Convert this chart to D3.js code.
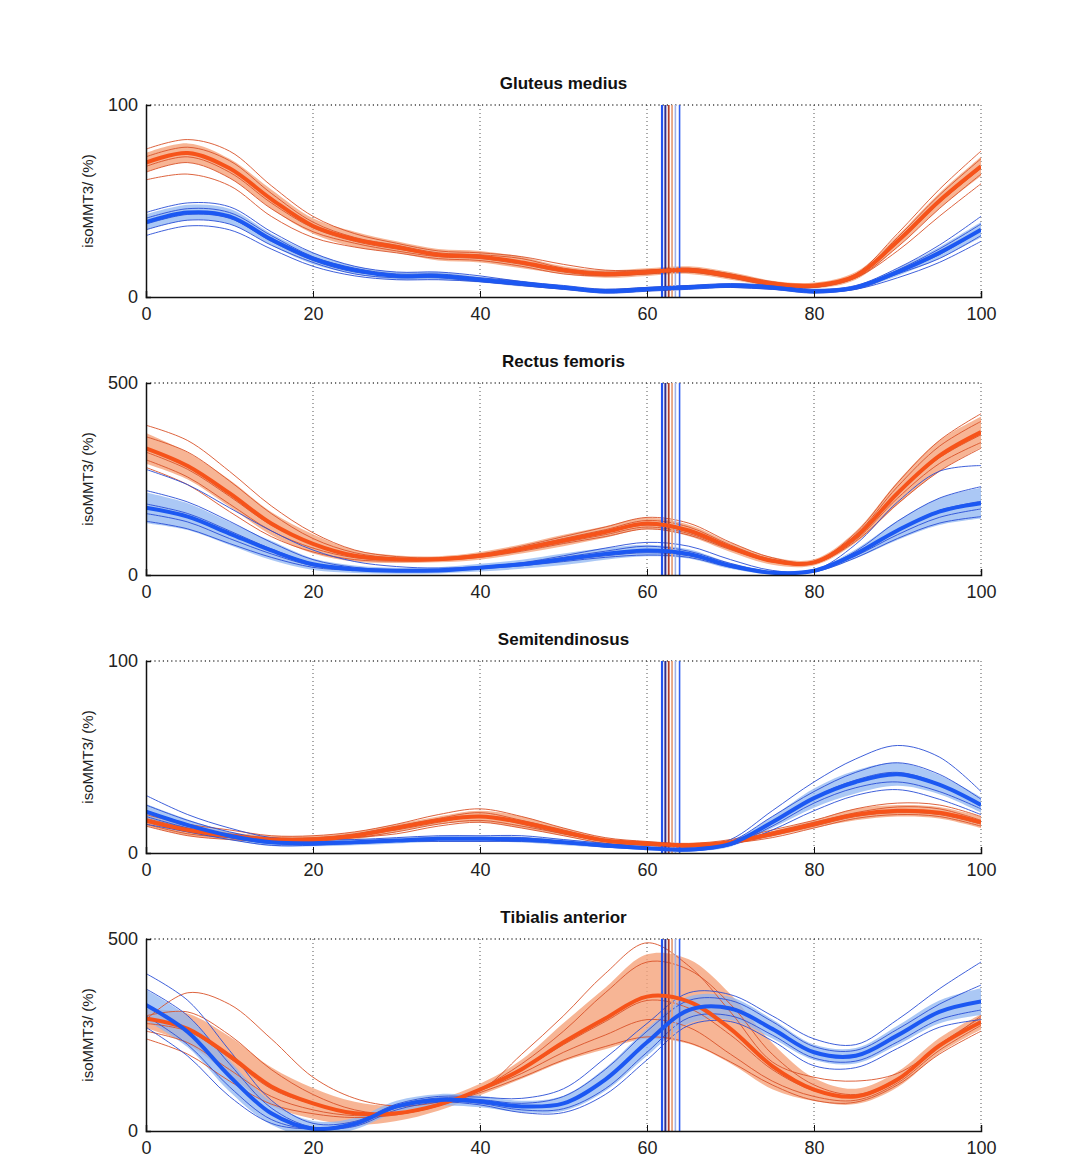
<!DOCTYPE html>
<html>
<head>
<meta charset="utf-8">
<script src="https://cdn.jsdelivr.net/npm/d3@7"></script>
<style>
  html, body { margin: 0; padding: 0; background: #fff; }
  svg { display: block; }
</style>
</head>
<body>
<svg id="chart" width="1073" height="1162"></svg>
<script>
// ---------------- DATA ----------------
const gaitPct = [0,5,10,15,20,25,30,35,40,45,50,55,60,65,70,75,80,85,90,95,100];
const xTickLabels = [0,20,40,60,80,100];
const muscles = ["Gluteus medius", "Rectus femoris", "Semitendinosus", "Tibialis anterior"];
const yMaxes = [100, 500, 100, 500];
const yLabel = "isoMMT3/ (%)";

// toe-off markers (% gait cycle)
const orangeToeOff = [62.6, 63.0];
const blueToeOff = [61.8, 62.2, 63.4, 63.9];

// Gluteus medius
const gmOrangeMean = [70,75,67,51,37,30,26,22,21,18,14,12,13,14,11,7,6,11,29,50,68];
const gmOrangeSd   = [5,5,5,5,4,4,3,3,3,3,2,2,2,2,2,1.5,1.5,2,3,4,5];
const gmBlueMean   = [39,44,42,30,20,14,11,11,9,7,5,3,4,5,6,5,3,5,13,23,35];
const gmBlueSd     = [4,4,4,3,3,2,2,2,1.5,1.5,1,1,1,1,1,1,1,1,2,3,4];
const gmOrangeTrials = [
  [77,82,76,58,42,33,28,24,23,21,17,14,14,15,12,8,6,12,33,56,76],
  [73,78,71,54,39,31,27,23,22,20,15,13,14,15,12,7,6,11,31,53,72],
  [68,73,65,49,36,29,25,22,21,18,14,12,13,14,11,7,5,11,28,49,67],
  [65,70,62,46,34,28,24,21,20,17,13,11,12,13,10,6,5,10,26,46,64],
  [61,64,58,42,31,26,23,20,19,16,12,11,12,13,10,6,5,10,24,42,59]
];
const gmBlueTrials = [
  [44,49,47,34,23,16,13,13,11,8,6,4,5,6,7,6,4,6,15,27,42],
  [41,46,44,32,21,15,12,12,10,8,5,4,5,6,6,5,3,5,14,25,38],
  [38,43,41,29,19,13,11,11,9,7,5,3,4,5,6,5,3,5,13,22,35],
  [35,40,38,27,18,12,10,10,8,6,4,3,4,5,5,4,3,4,12,20,32],
  [32,37,35,25,16,11,9,9,8,6,4,2,3,4,5,4,2,4,10,18,29]
];

// Rectus femoris
const rfOrangeMean = [330,284,213,134,81,50,41,41,50,68,90,112,134,116,72,37,33,99,213,310,372];
const rfOrangeSd   = [40,35,35,30,25,15,10,8,10,12,15,15,15,15,12,10,8,15,30,40,40];
const rfBlueMean   = [175,152,108,64,28,15,11,12,19,28,41,55,64,55,24,6,11,55,116,165,187];
const rfBlueSd     = [40,35,30,25,15,10,8,8,10,12,15,15,15,12,8,5,5,12,25,35,40];
const rfOrangeTrials = [
  [390,350,270,180,110,65,48,45,55,75,100,125,150,135,85,45,35,110,240,350,420],
  [360,320,245,160,95,58,44,43,52,72,95,118,142,125,78,40,33,105,230,335,400],
  [320,275,205,130,80,50,40,40,50,68,90,110,130,112,70,36,32,98,210,305,365],
  [300,255,185,115,70,45,38,39,48,65,85,105,125,108,68,35,30,92,200,290,345],
  [280,235,165,100,60,40,36,38,46,62,82,100,120,104,66,34,30,88,185,270,330]
];
const rfBlueTrials = [
  [275,235,175,115,65,35,22,18,22,32,50,70,85,75,40,12,12,80,190,270,285],
  [220,190,140,85,40,20,14,14,21,31,46,62,75,62,30,8,12,62,140,200,230],
  [185,160,115,68,30,16,12,12,19,28,41,55,64,55,24,6,10,55,118,168,192],
  [160,138,95,55,24,13,10,11,18,26,38,50,58,50,22,5,9,50,105,150,172],
  [140,120,82,46,20,12,9,10,16,24,35,46,52,46,20,5,8,45,95,135,152]
];

// Semitendinosus
const stOrangeMean = [17,12,9,7,7,9,13,17,19,16,11,6.5,5,4,5.6,10,15,20,22,21,16];
const stOrangeSd   = [3,3,2,2,2,2,2,2,3,3,2,1.5,1,1,1,1.5,2,3,3,3,3];
const stBlueMean   = [21.5,14.5,9,5.6,5,5.6,6.5,7.4,7.4,7,5.6,3.9,2.5,1.8,4.8,16,28.6,37,41,35.6,25];
const stBlueSd     = [4,3,2,2,1.5,1.5,1.5,1.5,1.5,1.5,1.5,1,1,1,1.5,3,5,6,6,5,4];
const stOrangeTrials = [
  [20,15,12,9,9,11,15,20,23,19,13,8,6,5,7,12,17,23,26,25,19],
  [18,13,10,8,8,10,14,18,21,17,12,7,5,4,6,11,16,21,24,23,17],
  [16,11,8,7,7,9,12,16,19,15,10,6,4,4,5,10,15,20,22,21,16],
  [15,10,8,6,7,8,11,15,17,14,10,6,4,3,5,9,14,19,21,20,15],
  [14,9,7,6,6,8,10,14,16,13,9,5,4,3,5,8,13,18,20,19,14]
];
const stBlueTrials = [
  [30,20,13,8,7,7,8,9,9,9,7,5,3,2,7,22,37,49,56,50,32],
  [25,17,11,7,6,6,7,8,8,8,6,4,3,2,6,19,32,42,47,41,28],
  [22,15,9,6,5,6,7,7,7,7,6,4,3,2,5,16,29,38,42,36,25],
  [19,13,8,5,5,5,6,7,7,7,5,4,2,2,4,14,26,34,37,32,23],
  [15,11,7,4,4,5,6,6,6,6,5,3,2,1,4,12,22,30,33,28,20]
];

// Tibialis anterior
const taOrangeMean = [293,266,196,116,72,46,46,68,108,161,231,293,350,337,266,169,108,90,134,222,284];
const taOrangeSd   = [25,40,50,50,40,30,20,15,15,25,50,80,110,110,90,60,30,20,20,20,20];
const taBlueMean   = [328,258,143,46,6,19,64,81,77,64,72,134,231,315,319,266,205,196,249,310,337];
const taBlueSd     = [40,40,40,30,20,15,15,15,15,15,20,30,35,35,30,25,20,20,25,30,35];
const taOrangeTrials = [
  [290,360,330,240,140,85,65,75,105,200,300,410,490,430,310,180,140,130,150,220,300],
  [300,310,250,160,95,55,45,65,110,175,260,360,440,420,330,200,120,95,135,225,295],
  [280,260,190,110,70,45,45,68,110,160,225,285,340,320,250,160,105,88,130,220,285],
  [260,230,160,90,55,40,45,68,105,150,205,250,290,270,200,130,90,80,125,210,275],
  [240,200,130,70,45,35,42,66,100,140,185,220,245,230,180,120,80,75,120,200,260]
];
const taBlueTrials = [
  [410,340,210,80,20,25,70,90,88,85,110,190,280,360,355,300,240,225,290,370,440],
  [370,300,175,60,10,20,66,86,82,72,90,160,260,340,340,285,220,210,265,330,380],
  [330,260,145,45,5,18,64,82,78,64,72,134,232,318,320,266,205,196,250,310,340],
  [300,225,115,30,5,15,60,78,72,55,58,110,205,295,300,250,190,182,232,290,315],
  [270,195,90,20,5,12,55,75,68,48,48,95,185,275,285,235,170,165,215,270,290]
];

// ---------------- BUILD ----------------
const panels = [
  {oMean: gmOrangeMean, oSd: gmOrangeSd, bMean: gmBlueMean, bSd: gmBlueSd, oTr: gmOrangeTrials, bTr: gmBlueTrials},
  {oMean: rfOrangeMean, oSd: rfOrangeSd, bMean: rfBlueMean, bSd: rfBlueSd, oTr: rfOrangeTrials, bTr: rfBlueTrials},
  {oMean: stOrangeMean, oSd: stOrangeSd, bMean: stBlueMean, bSd: stBlueSd, oTr: stOrangeTrials, bTr: stBlueTrials},
  {oMean: taOrangeMean, oSd: taOrangeSd, bMean: taBlueMean, bSd: taBlueSd, oTr: taOrangeTrials, bTr: taBlueTrials}
];
panels.forEach((p, i) => { p.title = muscles[i]; p.yMax = yMaxes[i]; });

const svg = d3.select("#chart");
const L = 146, R = 981, H = 192;
const tops = [105, 383, 661, 939];

const x = d3.scaleLinear().domain([0, 100]).range([L, R]);

const COL = {
  oBand: "#f5a27a", bBand: "#8fb6f2",
  oTrial: "#d9532a", bTrial: "#2a4fd6",
  oMean: "#f6531a", bMean: "#1c58f2"
};

panels.forEach((p, i) => {
  const top = tops[i], bottom = top + H;
  const y = d3.scaleLinear().domain([0, p.yMax]).range([bottom, top]);
  const g = svg.append("g");

  const clipId = "clip" + i;
  svg.append("clipPath").attr("id", clipId)
    .append("rect").attr("x", L).attr("y", top).attr("width", R - L).attr("height", H);

  // grid: vertical dotted
  g.selectAll(".vg").data([20,40,60,80,100]).join("line")
    .attr("x1", d => x(d)).attr("x2", d => x(d))
    .attr("y1", top).attr("y2", bottom)
    .attr("stroke", "#555").attr("stroke-width", 1).attr("stroke-dasharray", "1,3");
  // top dotted
  g.append("line").attr("x1", L).attr("x2", R).attr("y1", top).attr("y2", top)
    .attr("stroke", "#444").attr("stroke-width", 1.4).attr("stroke-dasharray", "1.2,3");

  const plot = g.append("g").attr("clip-path", `url(#${clipId})`);
  const curve = d3.curveCatmullRom.alpha(0.5);

  const area = (mean, sd) => d3.area()
    .x((d, k) => x(gaitPct[k]))
    .y0((d, k) => y(mean[k] - sd[k]))
    .y1((d, k) => y(mean[k] + sd[k]))
    .curve(curve)(mean);
  const line = d3.line().x((d, k) => x(gaitPct[k])).y(d => y(d)).curve(curve);

  plot.append("path").attr("d", area(p.oMean, p.oSd)).attr("fill", COL.oBand).attr("opacity", 0.8);
  plot.append("path").attr("d", area(p.bMean, p.bSd)).attr("fill", COL.bBand).attr("opacity", 0.75);

  p.oTr.forEach(t => plot.append("path").attr("d", line(t)).attr("fill", "none")
    .attr("stroke", COL.oTrial).attr("stroke-width", 1).attr("opacity", 0.9));
  p.bTr.forEach(t => plot.append("path").attr("d", line(t)).attr("fill", "none")
    .attr("stroke", COL.bTrial).attr("stroke-width", 1).attr("opacity", 0.9));

  // toe-off markers
  const markerStyles = {
    blue: [["#2252ee", 2.2], ["#2c2c8c", 2], ["#9fb2e8", 1.6], ["#2f5ff0", 1.6]],
    orange: [["#b2402c", 1.8], ["#e6a37f", 1.8]]
  };
  blueToeOff.forEach((v, k) => plot.append("line")
    .attr("x1", x(v)).attr("x2", x(v)).attr("y1", top).attr("y2", bottom)
    .attr("stroke", markerStyles.blue[k][0]).attr("stroke-width", markerStyles.blue[k][1]));
  orangeToeOff.forEach((v, k) => plot.append("line")
    .attr("x1", x(v)).attr("x2", x(v)).attr("y1", top).attr("y2", bottom)
    .attr("stroke", markerStyles.orange[k][0]).attr("stroke-width", markerStyles.orange[k][1]));

  plot.append("path").attr("d", line(p.oMean)).attr("fill", "none")
    .attr("stroke", COL.oMean).attr("stroke-width", 4);
  plot.append("path").attr("d", line(p.bMean)).attr("fill", "none")
    .attr("stroke", COL.bMean).attr("stroke-width", 4);

  // axes
  const xAxis = d3.axisBottom(x).tickValues(xTickLabels).tickSize(-6).tickPadding(10).tickFormat(d3.format("d"));
  const xg = g.append("g").attr("transform", `translate(0,${bottom})`).call(xAxis);
  xg.select(".domain").attr("stroke", "#111").attr("stroke-width", 1.5);
  xg.selectAll(".tick line").attr("stroke", "#111");
  xg.selectAll("text").attr("font-family", "Liberation Sans, Arial, sans-serif")
    .attr("font-size", 18).attr("fill", "#222");

  const yAxis = d3.axisLeft(y).tickValues([0, p.yMax]).tickSize(-5).tickPadding(8).tickFormat(d3.format("d"));
  const yg = g.append("g").attr("transform", `translate(${L},0)`).call(yAxis);
  yg.select(".domain").attr("stroke", "#111").attr("stroke-width", 1.5);
  yg.selectAll(".tick line").attr("stroke", "#111");
  yg.selectAll("text").attr("font-family", "Liberation Sans, Arial, sans-serif")
    .attr("font-size", 18).attr("fill", "#222");

  // title
  g.append("text").attr("x", (L + R) / 2).attr("y", top - 16)
    .attr("text-anchor", "middle").attr("font-family", "Liberation Sans, Arial, sans-serif")
    .attr("font-weight", "bold").attr("font-size", 17).attr("fill", "#111").text(p.title);

  // y label
  g.append("text").attr("transform", `translate(93,${(top + bottom) / 2}) rotate(-90)`)
    .attr("text-anchor", "middle").attr("font-family", "Liberation Sans, Arial, sans-serif")
    .attr("font-size", 15).attr("fill", "#222").text(yLabel);
});
</script>
</body>
</html>
